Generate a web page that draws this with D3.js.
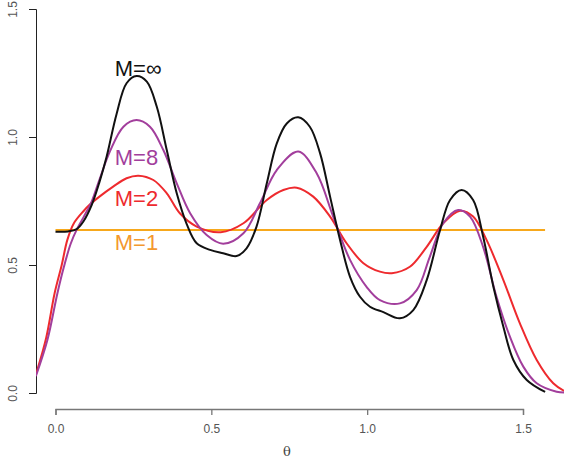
<!DOCTYPE html>
<html>
<head>
<meta charset="utf-8">
<script src="https://cdn.jsdelivr.net/npm/d3@7"></script>
<style>
  body { margin: 0; background: #fff; }
  svg { display: block; font-family: "Liberation Sans", Arial, sans-serif; }
</style>
</head>
<body>
<div id="chart"></div>
<script>
// [theta, density] pairs
const seriesMinf = [[0.000,0.630],[0.040,0.631],[0.068,0.640],[0.089,0.669],[0.116,0.734],[0.140,0.820],[0.164,0.923],[0.196,1.090],[0.228,1.210],[0.260,1.238],[0.293,1.216],[0.325,1.118],[0.357,0.949],[0.389,0.780],[0.421,0.660],[0.453,0.585],[0.496,0.559],[0.538,0.546],[0.581,0.535],[0.613,0.565],[0.645,0.650],[0.678,0.819],[0.710,0.975],[0.742,1.053],[0.779,1.077],[0.816,1.040],[0.849,0.936],[0.881,0.767],[0.913,0.598],[0.945,0.454],[0.977,0.376],[1.009,0.337],[1.052,0.316],[1.105,0.292],[1.148,0.324],[1.191,0.441],[1.234,0.637],[1.266,0.754],[1.303,0.793],[1.340,0.754],[1.372,0.611],[1.405,0.415],[1.437,0.259],[1.469,0.129],[1.512,0.051],[1.571,0.004]];
const seriesM8 = [[-0.063,0.066],[-0.026,0.207],[0.006,0.389],[0.027,0.493],[0.049,0.584],[0.070,0.643],[0.091,0.689],[0.115,0.745],[0.140,0.830],[0.175,0.945],[0.218,1.040],[0.260,1.066],[0.303,1.040],[0.346,0.949],[0.389,0.819],[0.432,0.702],[0.485,0.617],[0.538,0.583],[0.603,0.624],[0.656,0.741],[0.710,0.871],[0.779,0.943],[0.838,0.858],[0.891,0.689],[0.945,0.520],[0.998,0.415],[1.041,0.363],[1.105,0.350],[1.159,0.402],[1.201,0.532],[1.244,0.663],[1.292,0.715],[1.330,0.689],[1.372,0.571],[1.415,0.376],[1.458,0.220],[1.501,0.103],[1.544,0.038],[1.608,0.005],[1.632,0.002]];
const seriesM2 = [[-0.063,0.072],[-0.030,0.215],[-0.003,0.389],[0.020,0.500],[0.038,0.598],[0.059,0.663],[0.091,0.712],[0.111,0.737],[0.140,0.766],[0.185,0.806],[0.228,0.839],[0.266,0.849],[0.314,0.832],[0.357,0.780],[0.399,0.702],[0.453,0.650],[0.530,0.628],[0.603,0.663],[0.678,0.754],[0.731,0.793],[0.774,0.802],[0.827,0.767],[0.881,0.689],[0.934,0.585],[0.988,0.507],[1.041,0.474],[1.079,0.468],[1.137,0.493],[1.191,0.571],[1.244,0.663],[1.298,0.712],[1.340,0.689],[1.383,0.598],[1.437,0.441],[1.490,0.272],[1.544,0.129],[1.597,0.038],[1.632,0.008]];
const seriesM1 = [[0.000,0.6366],[1.5708,0.6366]];

const xTicks = [0, 0.5, 1.0, 1.5];
const yTicks = [0, 0.5, 1.0, 1.5];
const labels = [
  { text: "M=\u221e", theta: 0.19, value: 1.24, color: "#111111" },
  { text: "M=8", theta: 0.19, value: 0.89, color: "#a23e9c" },
  { text: "M=2", theta: 0.19, value: 0.73, color: "#ee2a2e" },
  { text: "M=1", theta: 0.19, value: 0.56, color: "#f3982e" }
];

const width = 564, height = 463;

const svg = d3.select("#chart").append("svg")
  .attr("width", width)
  .attr("height", height);

const x = d3.scaleLinear().domain([0, 1.5]).range([55.5, 523]);
const y = d3.scaleLinear().domain([0, 1.5]).range([393, 9]);

svg.append("clipPath").attr("id", "plot")
  .append("rect")
  .attr("x", 36).attr("y", 0)
  .attr("width", width - 36).attr("height", 400);

// y axis (R style, rotated labels)
const yAxis = svg.append("g")
  .attr("transform", "translate(36,0)")
  .call(d3.axisLeft(y).tickValues(yTicks).tickFormat(d3.format(".1f")).tickSize(7).tickPadding(4));
yAxis.select(".domain").attr("stroke", "#222");
yAxis.selectAll(".tick line").attr("stroke", "#222");
yAxis.selectAll(".tick text")
  .attr("fill", "#555")
  .attr("font-size", 12)
  .attr("text-anchor", "middle")
  .attr("x", 0).attr("dy", 0)
  .attr("transform", "translate(-23,0) rotate(-90)")
  .attr("dominant-baseline", "central");

// x axis
const xAxis = svg.append("g")
  .attr("transform", "translate(0,409)")
  .call(d3.axisBottom(x).tickValues(xTicks).tickFormat(d3.format(".1f")).tickSize(6).tickSizeOuter(6).tickPadding(9));
xAxis.select(".domain").attr("stroke", "#777").attr("stroke-width", 1.3);
xAxis.selectAll(".tick line").attr("stroke", "#777").attr("stroke-width", 1.3);
xAxis.selectAll(".tick text").attr("fill", "#555").attr("font-size", 12);

svg.append("text")
  .attr("x", 287).attr("y", 456)
  .attr("text-anchor", "middle")
  .attr("font-family", "'DejaVu Serif', 'Liberation Serif', serif")
  .attr("font-size", 13)
  .attr("fill", "#444")
  .text("\u03b8");

const line = d3.line()
  .x(d => x(d[0]))
  .y(d => y(d[1]))
  .curve(d3.curveCatmullRom.alpha(0.5));

const plot = svg.append("g").attr("clip-path", "url(#plot)");

const series = [
  { data: seriesM1, color: "#f7a81b" },
  { data: seriesM2, color: "#ee2a2e" },
  { data: seriesM8, color: "#a23e9c" },
  { data: seriesMinf, color: "#111111" }
];

series.forEach(s => {
  plot.append("path")
    .datum(s.data)
    .attr("fill", "none")
    .attr("stroke", s.color)
    .attr("stroke-width", 2)
    .attr("d", line);
});

svg.selectAll(".lbl")
  .data(labels)
  .enter().append("text")
  .attr("class", "lbl")
  .attr("x", d => x(d.theta))
  .attr("y", d => y(d.value))
  .attr("font-size", 22)
  .attr("fill", d => d.color)
  .text(d => d.text);
</script>
</body>
</html>
